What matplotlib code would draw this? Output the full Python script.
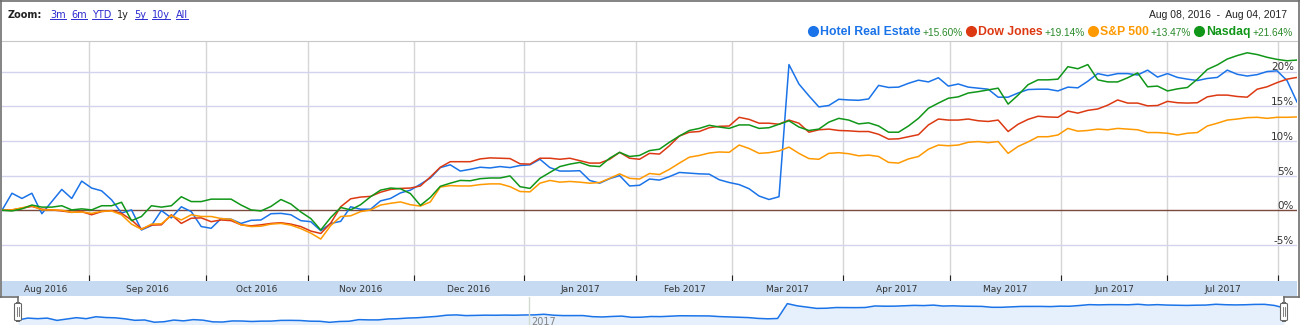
#! /bin/python3

import numpy as np
from matplotlib import pyplot as plt
from matplotlib.lines import Line2D
from matplotlib.patches import FancyBboxPatch

W, H = 1301, 325

names = ["Hotel Real Estate", "Dow Jones", "S&P 500", "Nasdaq"]
changes = ["+15.60%", "+19.14%", "+13.47%", "+21.64%"]
colors = ["#1a73e8", "#dc3912", "#ff9900", "#109618"]

zoom_links = ["3m", "6m", "YTD", "1y", "5y", "10y", "All"]
date_range = "Aug 08, 2016  -  Aug 04, 2017"

month_labels = ["Aug 2016", "Sep 2016", "Oct 2016", "Nov 2016", "Dec 2016",
                "Jan 2017", "Feb 2017", "Mar 2017", "Apr 2017", "May 2017",
                "Jun 2017", "Jul 2017"]
# first session of each month, in sample steps counted from Aug 08, 2016
month_starts = [8.78, 20.43, 30.67, 41.31, 52.45, 63.69, 73.33, 84.42,
                95.17, 106.31, 116.95, 128.09]
y_ticks = [-5, 0, 5, 10, 15, 20]

# % change since Aug 08, 2016
hotel = [
    0.0, 2.45, 1.7, 2.45, -0.5, 1.25, 3.0, 1.7, 4.2, 3.2,
    2.8, 1.5, -0.4, 0.05, -2.85, -2.2, -0.05, -1.1, 0.5, -0.2,
    -2.35, -2.6, -1.2, -1.3, -1.9, -1.45, -1.4, -0.5, -0.45, -0.65,
    -1.5, -1.65, -2.95, -1.9, -1.6, 0.5, 0.15, 0.15, 1.35, 1.7,
    2.5, 2.9, 3.75, 4.65, 6.15,
    6.55, 5.65, 5.9, 6.2, 6.1, 6.3, 6.15, 6.45, 6.55, 7.35,
    6.15, 5.65, 5.65, 5.7, 4.3, 3.9, 4.55, 5.0, 3.5, 3.6,
    4.5, 4.35, 4.85, 5.45, 5.35, 5.25, 5.2, 4.4, 4.0, 3.7,
    3.1, 2.05, 1.55, 1.95, 21.0, 18.2, 16.5, 14.9, 15.1, 16.0,
    15.9, 15.85, 16.05, 18.0, 17.7,
    17.75, 18.3, 18.75, 18.5, 19.1, 17.9, 18.2, 17.75, 17.6, 17.45,
    16.3, 16.3, 16.9, 17.4, 17.45,
    17.45, 17.2, 17.75, 17.65, 18.6, 19.7, 19.4, 19.7, 19.7, 19.5,
    20.2, 19.2, 19.7, 19.15, 18.9, 18.7, 19.0, 19.15, 20.2, 19.6,
    19.35, 19.55, 20.0, 20.1, 18.7, 15.6]

dow = [
    0.0, 0.05, 0.3, 0.55, 0.15, 0.05, -0.1, -0.3, -0.2, -0.65,
    -0.2, -0.05, -0.45, -1.4, -2.7, -2.15, -2.1, -0.65, -1.9, -1.15,
    -1.1, -1.65, -1.4, -1.5, -2.1, -2.25, -2.1, -1.9, -1.8, -2.0,
    -2.35, -3.0, -3.35, -1.85, 0.5, 1.65, 1.9, 2.0, 2.6, 3.0,
    3.15, 3.2, 3.5, 4.8, 6.2,
    7.0, 7.0, 7.0, 7.4, 7.55, 7.5, 7.45, 6.7, 6.65, 7.5,
    7.5, 7.35, 7.5, 7.15, 6.8, 6.8, 7.35, 8.35, 7.5, 7.35,
    8.2, 8.1, 9.3, 10.7, 11.25, 11.35, 11.9, 12.1, 12.15, 13.4,
    13.1, 12.55, 12.55, 12.4, 13.0, 12.55, 11.25, 11.6, 11.7, 11.5,
    11.45, 11.35, 11.35, 10.95, 10.25,
    10.3, 10.6, 10.9, 12.3, 13.15, 13.0, 13.0, 13.15, 12.9, 12.8,
    13.0, 11.35, 12.4, 13.1, 13.55, 13.45, 13.4, 14.3, 14.0, 14.4,
    14.6, 15.15, 15.9, 15.45, 15.45, 15.05, 15.1, 15.7, 15.5, 15.45,
    15.5, 16.35, 16.6, 16.6, 16.4, 16.3, 17.45, 17.8, 18.4, 18.9, 19.15]

sp500 = [
    0.0, 0.05, 0.35, 0.65, 0.05, 0.05, 0.0, -0.3, -0.25, -0.45,
    -0.15, -0.1, -0.65, -2.0, -2.75, -2.0, -1.95, -0.75, -1.4, -0.65,
    -0.9, -0.9, -1.2, -1.3, -2.1, -2.35, -2.3, -2.0, -1.9, -2.15,
    -2.65, -3.3, -4.15, -2.2, -0.9, -0.8, -0.2, 0.05, 0.75, 1.0,
    1.2, 0.8, 0.6, 1.2, 3.35,
    3.55, 3.5, 3.5, 3.7, 3.8, 3.8, 3.4, 2.7, 2.65, 3.9,
    4.3, 4.05, 4.15, 4.05, 3.9, 4.0, 4.6, 5.25, 4.6, 4.5,
    5.3, 5.15, 5.9, 6.8, 7.65, 7.9, 8.25, 8.4, 8.35, 9.4,
    8.9, 8.2, 8.3, 8.55, 9.1, 8.2, 7.45, 7.35, 8.2, 8.3,
    8.15, 7.85, 7.95, 7.75, 6.9,
    6.8, 7.4, 7.75, 8.8, 9.4, 9.3, 9.4, 9.8, 9.9, 9.75,
    9.9, 8.2, 9.2, 9.85, 10.6, 10.6, 10.85, 11.8, 11.4, 11.5,
    11.7, 11.6, 11.8, 11.7, 11.6, 11.2, 11.2, 11.1, 10.85, 11.1,
    11.2, 12.15, 12.55, 13.0, 13.15, 13.35, 13.4, 13.25, 13.4, 13.4, 13.45]

nasdaq = [
    0.0, -0.1, 0.2, 0.75, 0.45, 0.45, 0.65, 0.05, 0.2, 0.05,
    0.65, 0.65, 1.15, -1.5, -0.9, 0.65, 0.45, 0.65, 1.95, 1.25,
    1.25, 1.6, 1.6, 1.6, 0.75, 0.05, -0.1, 0.55, 1.55, 0.9,
    -0.25, -1.2, -2.85, -1.05, 0.4, 0.05, 0.8, 1.95, 2.9, 3.2,
    3.1, 2.4, 0.7, 1.85, 3.45,
    3.9, 4.3, 4.25, 4.55, 4.65, 4.65, 4.95, 3.4, 3.15, 4.6,
    5.45, 6.3, 6.65, 6.9, 6.4, 6.3, 7.5, 8.35, 7.75, 7.9,
    8.6, 8.8, 9.8, 10.7, 11.5, 11.8, 12.25, 12.0, 11.8, 12.3,
    12.3, 11.8, 11.9, 12.4, 12.9, 12.0, 11.5, 11.7, 12.7, 13.25,
    13.0, 12.45, 12.6, 12.15, 11.25,
    11.25, 12.15, 13.25, 14.7, 15.45, 16.15, 16.35, 16.9, 17.1, 17.35,
    17.6, 15.3, 16.6, 18.1, 18.8, 18.8, 18.9, 20.7, 20.4, 21.0,
    18.8, 18.5, 18.5, 19.1, 19.8, 17.8, 17.9, 17.2, 17.5, 17.7,
    18.9, 20.3, 20.95, 21.8, 22.3, 22.7, 22.45, 22.05, 21.75, 21.55, 21.65]


def fx(px):
    return px / W


def fy(py):
    return 1 - py / H


def header(fig, r):
    fig.text(fx(8), fy(17.5), "Zoom:", fontsize=7, fontweight="bold",
             color="#222222", va="baseline")
    x0 = 50
    for lab in zoom_links:
        active = lab == "1y"
        t = fig.text(fx(x0), fy(17.5), lab, fontsize=7, va="baseline",
                     color="#222222" if active else "#2a2ad0")
        bb = t.get_window_extent(r)
        if not active:
            fig.add_artist(Line2D([fx(bb.x0), fx(bb.x1)], [fy(19)] * 2,
                                  lw=0.7, color="#2a2ad0"))
        x0 = bb.x1 + 5.5

    fig.text(fx(1287), fy(17.5), date_range, fontsize=7.5,
             family="Liberation Sans", color="#222222", ha="right",
             va="baseline")

    # legend, laid out from the right edge
    x_end = 1293
    for name, pct, c in reversed(list(zip(names, changes, colors))):
        t2 = fig.text(fx(x_end), fy(36), pct, fontsize=7.3,
                      family="Liberation Sans", color="#2a8a2a",
                      ha="right", va="baseline")
        left = t2.get_window_extent(r).x0
        t = fig.text(fx(left - 2), fy(35), name, fontsize=8.8,
                     fontweight="bold", family="Liberation Sans", color=c,
                     ha="right", va="baseline")
        left = t.get_window_extent(r).x0
        fig.add_artist(Line2D([fx(left - 7)], [fy(31)], marker="o", ms=7,
                              color=c, lw=0))
        x_end = left - 15


def main():
    fig = plt.figure(figsize=(W / 100, H / 100), dpi=100)
    r = fig.canvas.get_renderer()
    x = np.arange(len(hotel))

    # MAIN PLOT
    ax = fig.add_axes([fx(2), 44 / H, fx(1295), 240 / H])
    ax.set_xlim(0, len(hotel) - 1)
    ax.set_ylim(-10.2, 24.4)
    for m in month_starts:
        ax.axvline(m, color="#d6d6d6", lw=1, zorder=1)
    for v in y_ticks:
        ax.axhline(v, color="#7b4a3e" if v == 0 else "#d3d3ee", lw=1,
                   zorder=2 if v == 0 else 1)
        ax.text(0.9977, v + 0.15, f"{v}%", transform=ax.get_yaxis_transform(),
                ha="right", va="baseline", fontsize=7.5, color="#333333",
                zorder=5)
    for series, c in zip([hotel, dow, sp500, nasdaq], colors):
        ax.plot(x, series, color=c, lw=1.1, zorder=3)
    ax.set_xticks(month_starts)
    ax.set_yticks([])
    ax.tick_params(axis="x", direction="in", length=4, width=0.8,
                   color="#222222", labelbottom=False)
    for s in ["left", "right", "bottom"]:
        ax.spines[s].set_visible(False)
    ax.spines["top"].set_color("#c8c8c8")

    # MONTH BAND
    band = fig.add_axes([fx(2), 29 / H, fx(1295), 15 / H],
                        facecolor="#c6dbf2")
    band.set_xlim(ax.get_xlim())
    band.set_ylim(0, 1)
    band.set_xticks([])
    band.set_yticks([])
    for s in band.spines.values():
        s.set_visible(False)
    edges = [0] + month_starts
    for lab, a, b in zip(month_labels, edges[:-1], edges[1:]):
        band.text((a + b) / 2, 0.45, lab, ha="center", va="center",
                  fontsize=6.5, color="#333333")

    # NAVIGATOR
    nav = fig.add_axes([fx(18), 0, fx(1266), 28 / H])
    nav.fill_between(x, hotel, -10, color="#e6f0fc", lw=0)
    nav.plot(x, hotel, color=colors[0], lw=1.1)
    nav.axvline(month_starts[4], color="#cfdccf", lw=1)
    nav.text(month_starts[4] + 0.3, -2, "2017", fontsize=7,
             color="#808080", va="center")
    nav.set_xlim(0, len(hotel) - 1)
    nav.set_ylim(-6.4, 29.5)
    nav.axis("off")

    for hx in [18, 1284]:
        fig.add_artist(FancyBboxPatch((fx(hx - 3.5), fy(321)), fx(7),
                                      18 / H, boxstyle="round,pad=0,rounding_size=0.004",
                                      fc="white", ec="#666666", lw=0.8))
        for dx in [-1, 1]:
            fig.add_artist(Line2D([fx(hx + dx)] * 2, [fy(307), fy(316)],
                                  lw=0.6, color="#666666"))

    # FRAME
    frame = "#6e6e6e"
    for xs, ys in [([1, 1], [0, 297]), ([0, 1299], [1, 1]),
                   ([1299, 1299], [0, 297]), ([0, 18], [297, 297]),
                   ([18, 18], [297, 303]), ([1284, 1299], [297, 297]),
                   ([1284, 1284], [297, 303])]:
        fig.add_artist(Line2D([fx(v) for v in xs], [fy(v) for v in ys],
                              lw=1.2, color=frame))

    header(fig, r)

    fig.savefig("out.png", dpi=100)


if __name__ == "__main__":
    main()
